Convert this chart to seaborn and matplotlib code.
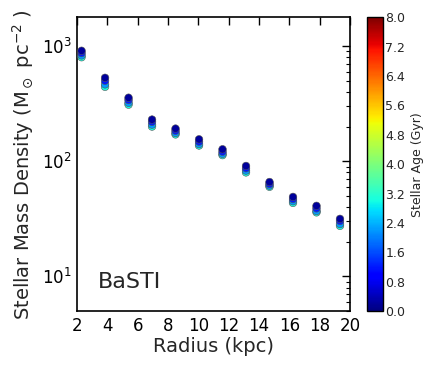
import numpy as np
import pandas as pd
import matplotlib
matplotlib.use('Agg')
import matplotlib.pyplot as plt
import seaborn as sns

# radii of the annuli (kpc)
radius = [2.3, 3.85, 5.4, 6.95, 8.5, 10.05, 11.6, 13.15, 14.7, 16.25, 17.8, 19.35]

# stellar ages (Gyr) of the model sets
ages = [3.0, 2.2, 1.2, 0.2]

# stellar mass density per age (Msun pc^-2)
dens_3p0 = [800, 443, 310, 200, 171, 137, 113, 80, 60, 43.5, 36, 27.5]
dens_2p2 = [830, 465, 322, 208, 176, 141, 116, 83, 61.5, 45, 37, 28.5]
dens_1p2 = [870, 500, 340, 220, 184, 148, 121, 87, 63.5, 47, 39, 30.3]
dens_0p2 = [910, 530, 356, 230, 192, 155, 127, 91, 66, 49, 41, 31.6]

cbar_ticks = [0.0, 0.8, 1.6, 2.4, 3.2, 4.0, 4.8, 5.6, 6.4, 7.2, 8.0]

df = pd.concat([
    pd.DataFrame({'radius': radius, 'density': d, 'age': a})
    for a, d in zip(ages, [dens_3p0, dens_2p2, dens_1p2, dens_0p2])
], ignore_index=True)

sns.set_style('white')
plt.rcParams['font.family'] = ['DejaVu Sans']

fig = plt.figure(figsize=(4.29, 3.66), dpi=100)
ax = fig.add_axes([0.1795, 0.150, 0.636, 0.803])
cax = fig.add_axes([0.855, 0.150, 0.037, 0.803])

jet = matplotlib.colormaps['jet']
norm = matplotlib.colors.Normalize(vmin=0, vmax=8)
sns.scatterplot(data=df, x='radius', y='density', hue='age', palette=jet,
                hue_norm=norm, s=30, edgecolor='#555555', linewidth=0.4,
                legend=False, ax=ax, zorder=3)

ax.set_yscale('log')
ax.set_xlim(2, 20)
ax.set_ylim(5.0, 1780)
ax.set_xticks(range(2, 21, 2))
ax.set_xlabel('Radius (kpc)', fontsize=14, labelpad=2)
ax.set_ylabel(r'Stellar Mass Density (M$_\odot$ pc$^{-2}$ )', fontsize=14, labelpad=4)
ax.tick_params(which='both', direction='in', top=True, right=True, colors='black')
ax.tick_params(which='major', length=6, width=1, labelsize=12, pad=4)
ax.tick_params(which='minor', length=3, width=0.8)
ax.tick_params(axis='x', which='minor', bottom=False, top=False)
for sp in ax.spines.values():
    sp.set_color('black')
    sp.set_linewidth(1.2)
ax.text(0.075, 0.078, 'BaSTI', transform=ax.transAxes, fontsize=16)

sm = matplotlib.cm.ScalarMappable(norm=norm, cmap=jet)
cb = fig.colorbar(sm, cax=cax, ticks=cbar_ticks)
cb.ax.set_yticklabels([f'{t:.1f}' for t in cbar_ticks])
cb.ax.tick_params(labelsize=9, direction='in', length=0, pad=2)
cb.set_label('Stellar Age (Gyr)', fontsize=9)
cb.outline.set_edgecolor('black')
cb.outline.set_linewidth(1.0)

fig.savefig('out.png', dpi=100)
